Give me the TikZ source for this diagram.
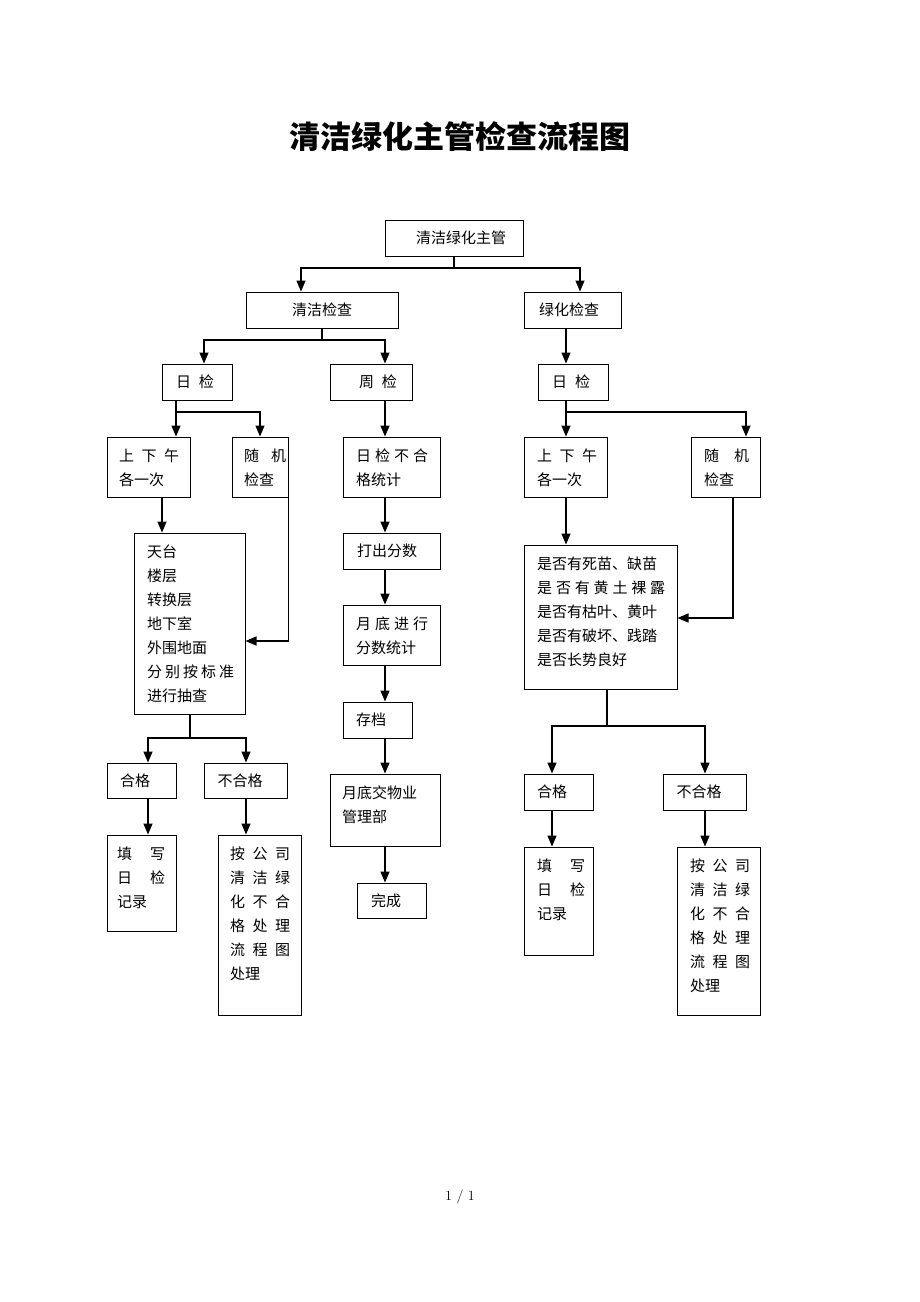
\documentclass[tikz,border=0pt]{standalone}
\usepackage{fontspec}
\newfontfamily\cjk{Noto Sans CJK SC}
\usetikzlibrary{arrows.meta}
\newcommand{\jj}[2]{\makebox[#1pt][s]{#2}}
\begin{document}
\begin{tikzpicture}[x=1pt,y=-1pt,
  box/.style={draw,line width=1pt,inner sep=0pt},
  lbl/.style={font=\cjk\fontsize{15}{24}\selectfont,align=left,anchor=north west,inner sep=0pt,yshift=-5pt},
  ctr/.style={font=\cjk\fontsize{15}{24}\selectfont,inner sep=0pt},
  ln/.style={line width=1.4pt},
  ar/.style={line width=1.4pt,-{Triangle[length=11pt,width=9pt]}}]
\useasboundingbox (0,0) rectangle (920,1302);
\node[font=\cjk\bfseries\fontsize{31}{33}\selectfont] (title) at (460,137) {清洁绿化主管检查流程图};
\node[font=\fontsize{14}{16}\selectfont] (foot) at (460,1197) {1 / 1};
% boxes
\node[box,minimum width=138pt,minimum height=36pt] (top) at (454,238) {};
\node[ctr] (t-top) at (461,238) {清洁绿化主管};
\node[box,minimum width=152pt,minimum height=36pt] (qj) at (322,310) {};
\node[ctr] (t-qj) at (322,310) {清洁检查};
\node[box,minimum width=97pt,minimum height=36pt] (lh) at (572.5,310) {};
\node[ctr] (t-lh) at (569,310) {绿化检查};
\node[box,minimum width=70pt,minimum height=36pt] (rjL) at (197,382) {};
\node[ctr] (t-rjL) at (195,382) {\jj{38}{日\hfill 检}};
\node[box,minimum width=82pt,minimum height=36pt] (zj) at (371,382) {};
\node[ctr] (t-zj) at (378,382) {\jj{38}{周\hfill 检}};
\node[box,minimum width=70pt,minimum height=36pt] (rjR) at (573,382) {};
\node[ctr] (t-rjR) at (571,382) {\jj{38}{日\hfill 检}};
\node[box,minimum width=83pt,minimum height=60pt] (sxL) at (148.5,467) {};
\node[lbl] (t-sxL) at (119,444) {\jj{60}{上\hfill 下\hfill 午}\\各一次};
\node[box,minimum width=56pt,minimum height=60pt] (sjL) at (260,467) {};
\node[lbl] (t-sjL) at (244,444) {\jj{42}{随\hfill 机}\\检查};
\node[box,minimum width=97pt,minimum height=60pt] (rjbh) at (391.5,467) {};
\node[lbl] (t-rjbh) at (356,444) {\jj{72}{日\hfill 检\hfill 不\hfill 合}\\格统计};
\node[box,minimum width=83pt,minimum height=60pt] (sxR) at (565.5,467) {};
\node[lbl] (t-sxR) at (537,444) {\jj{60}{上\hfill 下\hfill 午}\\各一次};
\node[box,minimum width=69pt,minimum height=60pt] (sjR) at (725.5,467) {};
\node[lbl] (t-sjR) at (704,444) {\jj{45}{随\hfill 机}\\检查};
\node[box,minimum width=111pt,minimum height=181pt] (tt) at (189.5,623.5) {};
\node[lbl] (t-tt) at (147,540) {天台\\楼层\\转换层\\地下室\\外围地面\\\jj{87}{分\hfill 别\hfill 按\hfill 标\hfill 准}\\进行抽查};
\node[box,minimum width=97pt,minimum height=36pt] (dc) at (391.5,551) {};
\node[ctr] (t-dc) at (387,551) {打出分数};
\node[box,minimum width=97pt,minimum height=60pt] (yd) at (391.5,635) {};
\node[lbl] (t-yd) at (356,612) {\jj{72}{月\hfill 底\hfill 进\hfill 行}\\分数统计};
\node[box,minimum width=153pt,minimum height=144pt] (big) at (600.5,617) {};
\node[lbl] (t-big) at (537,552) {\jj{128}{是否有死苗、缺苗}\\\jj{128}{是\hfill 否\hfill 有\hfill 黄\hfill 土\hfill 裸\hfill 露}\\\jj{128}{是否有枯叶、黄叶}\\\jj{128}{是否有破坏、践踏}\\是否长势良好};
\node[box,minimum width=69pt,minimum height=36pt] (cd) at (377.5,720) {};
\node[ctr] (t-cd) at (371,720) {存档};
\node[box,minimum width=69pt,minimum height=35pt] (hgL) at (141.5,780.5) {};
\node[ctr] (t-hgL) at (135,780.5) {合格};
\node[box,minimum width=83pt,minimum height=35pt] (bhgL) at (245.5,780.5) {};
\node[ctr] (t-bhgL) at (240,780.5) {不合格};
\node[box,minimum width=110pt,minimum height=72pt] (yj) at (385,810) {};
\node[lbl] (t-yj) at (342,781) {月底交物业\\管理部};
\node[box,minimum width=69pt,minimum height=36pt] (hgR) at (558.5,792) {};
\node[ctr] (t-hgR) at (552,792) {合格};
\node[box,minimum width=83pt,minimum height=36pt] (bhgR) at (704.5,792) {};
\node[ctr] (t-bhgR) at (699,792) {不合格};
\node[box,minimum width=69pt,minimum height=96pt] (txL) at (141.5,883) {};
\node[lbl] (t-txL) at (117,842) {\jj{48}{填\hfill 写}\\\jj{48}{日\hfill 检}\\记录};
\node[box,minimum width=83pt,minimum height=180pt] (agL) at (259.5,925) {};
\node[lbl] (t-agL) at (230,842) {\jj{60}{按\hfill 公\hfill 司}\\\jj{60}{清\hfill 洁\hfill 绿}\\\jj{60}{化\hfill 不\hfill 合}\\\jj{60}{格\hfill 处\hfill 理}\\\jj{60}{流\hfill 程\hfill 图}\\处理};
\node[box,minimum width=69pt,minimum height=35pt] (wc) at (391.5,900.5) {};
\node[ctr] (t-wc) at (386,900.5) {完成};
\node[box,minimum width=69pt,minimum height=108pt] (txR) at (558.5,901) {};
\node[lbl] (t-txR) at (537,854) {\jj{48}{填\hfill 写}\\\jj{48}{日\hfill 检}\\记录};
\node[box,minimum width=83pt,minimum height=168pt] (agR) at (718.5,931) {};
\node[lbl] (t-agR) at (690,854) {\jj{60}{按\hfill 公\hfill 司}\\\jj{60}{清\hfill 洁\hfill 绿}\\\jj{60}{化\hfill 不\hfill 合}\\\jj{60}{格\hfill 处\hfill 理}\\\jj{60}{流\hfill 程\hfill 图}\\处理};
% junction coordinates
\coordinate (j1) at (454,268);
\coordinate (j2) at (322,340);
\coordinate (j3) at (176,412);
\coordinate (j4) at (566,412);
\coordinate (j5) at (190,738);
\coordinate (j6) at (607,726);
% connectors
\draw[ln] (top.south -| j1) -- (j1);
\draw[ar] (j1) -| (qj.north -| 301,0);
\draw[ar] (j1) -| (lh.north -| 580,0);
\draw[ln] (qj.south -| j2) -- (j2);
\draw[ar] (j2) -| (rjL.north -| 204,0);
\draw[ar] (j2) -| (zj.north -| 385,0);
\draw[ar] (lh.south -| 566,0) -- (rjR.north -| 566,0);
\draw[ar] (rjL.south -| j3) -- (sxL.north -| j3);
\draw[ar] (j3) -| (sjL.north);
\draw[ar] (zj.south -| 385,0) -- (rjbh.north -| 385,0);
\draw[ar] (rjR.south -| j4) -- (sxR.north -| j4);
\draw[ar] (j4) -| (sjR.north -| 746,0);
\draw[ar] (sxL.south -| 162,0) -- (tt.north -| 162,0);
\draw[ar] (sjL.south east) |- (tt.east |- 0,641);
\draw[ar] (rjbh.south -| 385,0) -- (dc.north -| 385,0);
\draw[ar] (dc.south -| 385,0) -- (yd.north -| 385,0);
\draw[ar] (yd.south -| 385,0) -- (cd.north -| 385,0);
\draw[ar] (cd.south -| 385,0) -- (yj.north -| 385,0);
\draw[ar] (yj.south -| 385,0) -- (wc.north -| 385,0);
\draw[ar] (sxR.south -| 566,0) -- (big.north -| 566,0);
\draw[ar] (sjR.south -| 733,0) |- (big.east |- 0,618);
\draw[ln] (tt.south -| j5) -- (j5);
\draw[ar] (j5) -| (hgL.north -| 148,0);
\draw[ar] (j5) -| (bhgL.north -| 246,0);
\draw[ln] (big.south -| j6) -- (j6);
\draw[ar] (j6) -| (hgR.north -| 552,0);
\draw[ar] (j6) -| (bhgR.north -| 705,0);
\draw[ar] (hgL.south -| 148,0) -- (txL.north -| 148,0);
\draw[ar] (bhgL.south -| 246,0) -- (agL.north -| 246,0);
\draw[ar] (hgR.south -| 552,0) -- (txR.north -| 552,0);
\draw[ar] (bhgR.south -| 705,0) -- (agR.north -| 705,0);
\end{tikzpicture}
\end{document}
